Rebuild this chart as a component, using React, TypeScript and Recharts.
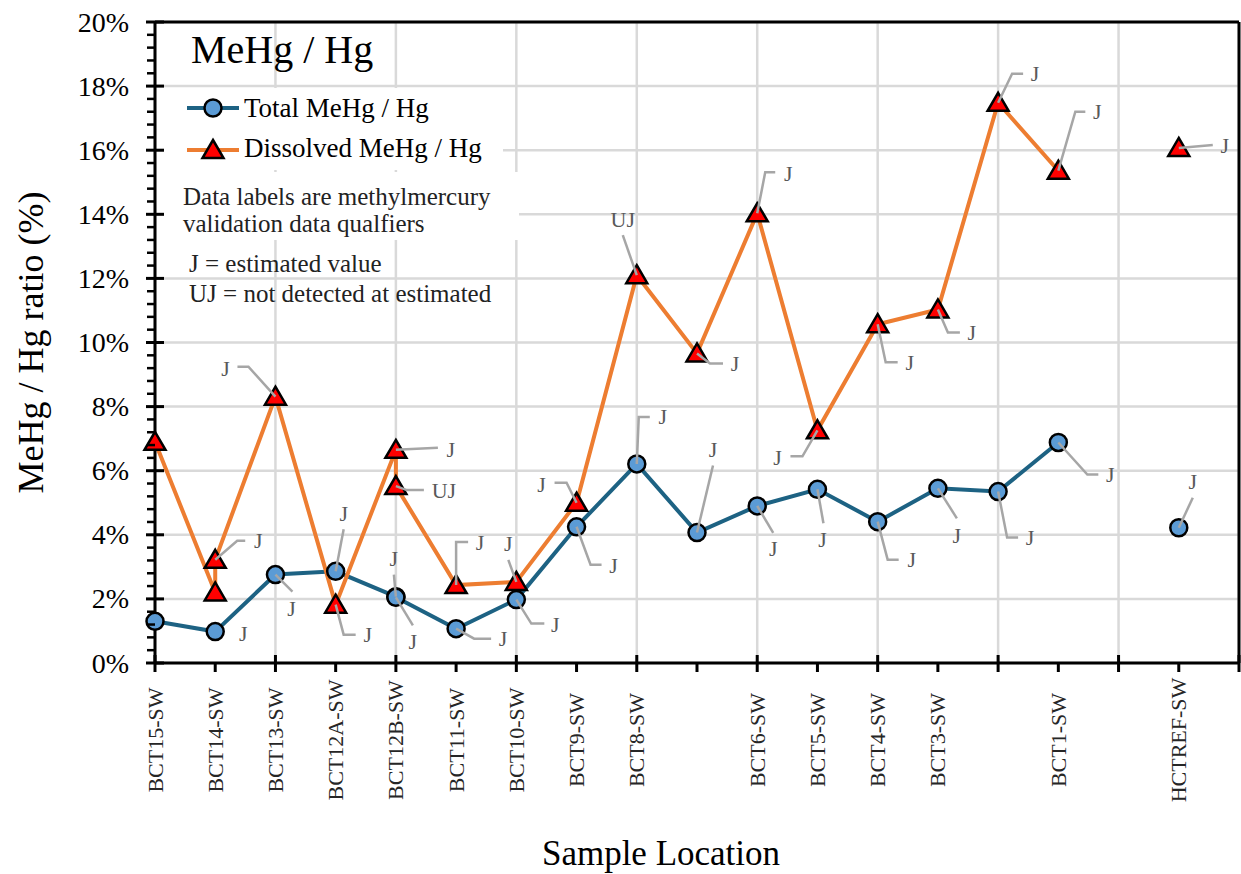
import React from 'react';
import {
  LineChart,
  Line,
  XAxis,
  YAxis,
  CartesianGrid,
  ReferenceLine,
  Legend,
  LabelList,
} from 'recharts';

const FONT = '"Liberation Serif", "Times New Roman", Times, serif';

// sample locations along the x axis (blank ones were not labelled in the original)
const locations = [
  'BCT15-SW', 'BCT14-SW', 'BCT13-SW', 'BCT12A-SW', 'BCT12B-SW', 'BCT11-SW',
  'BCT10-SW', 'BCT9-SW', 'BCT8-SW', '', 'BCT6-SW', 'BCT5-SW', 'BCT4-SW',
  'BCT3-SW', '', 'BCT1-SW', '', 'HCTREF-SW',
];
const xTicks = [0, 1, 2, 3, 4, 5, 6, 7, 8, 9, 10, 11, 12, 13, 14, 15, 16, 17, 18];
const gridX = [0, 2, 4, 6, 8, 10, 12, 14, 16, 18];
const gridY = [0, 2, 4, 6, 8, 10, 12, 14, 16, 18, 20];
const yTicks = Array.from({ length: 51 }, (_, i) => Math.round(i * 4) / 10);

// Total MeHg / Hg (%)
const totalLoc = [0, 1, 2, 3, 4, 4, 5, 6, 7, 8, 9, 10, 11, 12, 13, 14, 15, 16, 17];
const totalPct = [1.3, 0.98, 2.76, 2.86, 2.07, 2.05, 1.07, 1.98, 4.25, 6.21, 4.07, 4.9, 5.42, 4.41, 5.45, 5.35, 6.88, null, 4.22];
const totalQual = ['', 'J', 'J', 'J', 'J', 'J', 'J', 'J', 'J', 'J', 'J', 'J', 'J', 'J', 'J', 'J', 'J', '', 'J'];

// Dissolved MeHg / Hg (%)
const dissLoc = [0, 1, 1, 2, 3, 4, 4, 5, 6, 7, 8, 9, 10, 11, 12, 13, 14, 15, 16, 17];
const dissPct = [6.9, 2.2, 3.22, 8.31, 1.82, 6.65, 5.52, 2.43, 2.53, 5.0, 12.1, 9.66, 14.03, 7.26, 10.57, 11.03, 17.48, 15.36, null, 16.07];
const dissQual = ['', '', 'J', 'J', 'J', 'J', 'UJ', 'J', 'J', 'J', 'UJ', 'J', 'J', 'J', 'J', 'J', 'J', 'J', '', 'J'];

// label placement: leader elbow [x1,y1], leader end [x2,y2], text centre [tx,ty] relative to the point
const totalLabelPos: number[][] = [
  [], [0, 0, 0, 0, 28, 2], [17, 17, 17, 17, 16, 34], [8, -42, 8, -42, 8, -58],
  [-2, -22, -2, -22, -2, -38], [17, 28, 17, 28, 17, 44], [18, 10, 35, 10, 47, 10],
  [15, 24, 28, 24, 39, 25], [14, 38, 25, 38, 37, 39], [2, -47, 13, -47, 26, -47],
  [16, -67, 16, -67, 16, -83], [16, 27, 16, 27, 16, 43], [6, 34, 6, 34, 5, 50],
  [10, 38, 21, 38, 34, 38], [19, 30, 19, 30, 19, 47], [9, 46, 20, 46, 32, 46],
  [29, 32, 40, 32, 52, 32], [], [14, -30, 14, -30, 14, -46],
];
const dissLabelPos: number[][] = [
  [], [], [22, -19, 30, -19, 43, -19], [-27, -30, -38, -30, -50, -28],
  [8, 30, 20, 30, 32, 30], [42, -2, 42, -2, 55, 0], [11, 4, 28, 4, 48, 4],
  [0, -43, 12, -43, 24, -43], [-8, -22, -8, -22, -8, -38], [-10, -20, -22, -20, -35, -18],
  [-14, -40, -14, -40, -14, -56], [13, 10, 26, 10, 38, 10], [8, -41, 18, -41, 31, -40],
  [-15, 26, -27, 26, -40, 27], [8, 38, 20, 38, 32, 38], [10, 23, 22, 23, 34, 23],
  [14, -29, 25, -29, 37, -29], [17, -59, 27, -59, 39, -59], [], [34, -3, 34, -3, 46, -2],
];

const totalRows = totalLoc.map((x, i) => ({ x, v: totalPct[i], q: totalQual[i] }));
const dissRows = dissLoc.map((x, i) => ({ x, v: dissPct[i], q: dissQual[i] }));

const TOTAL_LINE = '#1d6283';
const TOTAL_FILL = '#5b9bd5';
const DISS_LINE = '#ed7d31';
const DISS_FILL = '#ff0000';

const isMajor = (v: number, step: number) => Math.abs(v / step - Math.round(v / step)) < 1e-6;

const circleDot = (props: any) => {
  const { cx, cy, index } = props;
  if (cx == null || cy == null || props.value == null) return <g key={`c${index}`} />;
  return <circle key={`c${index}`} cx={cx} cy={cy} r={8.5} fill={TOTAL_FILL} stroke="#000" strokeWidth={2.5} />;
};

const triangleDot = (props: any) => {
  const { cx, cy, index } = props;
  if (cx == null || cy == null || props.value == null) return <g key={`t${index}`} />;
  return (
    <polygon
      key={`t${index}`}
      points={`${cx},${cy - 10} ${cx + 10.5},${cy + 8} ${cx - 10.5},${cy + 8}`}
      fill={DISS_FILL}
      stroke="#000"
      strokeWidth={2.5}
    />
  );
};

const qualifierLabel = (pos: number[][]) => (props: any) => {
  const { x, y, value, index } = props;
  if (!value || x == null || y == null) return null;
  const p = pos[index];
  if (!p || !p.length) return null;
  const [x1, y1, x2, y2, tx, ty] = p;
  return (
    <g key={`l${index}`}>
      {x1 || y1 ? (
        <polyline
          points={`${x},${y} ${x + x1},${y + y1} ${x + x2},${y + y2}`}
          fill="none"
          stroke="#a6a6a6"
          strokeWidth={2.5}
        />
      ) : null}
      <text x={x + tx} y={y + ty} textAnchor="middle" dominantBaseline="central" fontFamily={FONT} fontSize={22} fill="#595959">
        {value}
      </text>
    </g>
  );
};

const XTick = (props: any) => {
  const { x, y, payload } = props;
  const v = payload.value;
  const major = isMajor(v, 2);
  const name = locations[v] || '';
  return (
    <g>
      <line x1={x} x2={x} y1={major ? y - 8 : y} y2={y + 9} stroke="#000" strokeWidth={3} />
      {name ? (
        <text
          x={x}
          y={740}
          transform={`rotate(-90, ${x}, 740)`}
          textAnchor="middle"
          dominantBaseline="central"
          fontFamily={FONT}
          fontSize={22}
          fill="#262626"
        >
          {name}
        </text>
      ) : null}
    </g>
  );
};

const YTick = (props: any) => {
  const { x, y, payload } = props;
  const v = payload.value;
  if (isMajor(v, 2)) {
    return (
      <g>
        <line x1={x - 9} x2={x + 9} y1={y} y2={y} stroke="#000" strokeWidth={3} />
        <text x={x - 26} y={y} textAnchor="end" dominantBaseline="central" fontFamily={FONT} fontSize={28} fill="#000">
          {`${Math.round(v)}%`}
        </text>
      </g>
    );
  }
  return <line x1={x - 8} x2={x} y1={y} y2={y} stroke="#000" strokeWidth={2.5} />;
};

const renderLegend = () => (
  <svg width={370} height={300} style={{ display: 'block', overflow: 'visible' }}>
    <rect x={7} y={64} width={339} height={82} fill="#fff" />
    <rect x={7} y={148} width={355} height={68} fill="#fff" />
    <text x={34} y={39} fontFamily={FONT} fontSize={40} fill="#000">MeHg / Hg</text>
    <line x1={30} x2={82} y1={84} y2={84} stroke={TOTAL_LINE} strokeWidth={4} />
    <circle cx={56} cy={84} r={8.5} fill={TOTAL_FILL} stroke="#000" strokeWidth={2.5} />
    <text x={87} y={93} fontFamily={FONT} fontSize={27} fill="#000">Total MeHg / Hg</text>
    <line x1={30} x2={82} y1={126} y2={126} stroke={DISS_LINE} strokeWidth={4} />
    <polygon points="56,116 66.5,134 45.5,134" fill={DISS_FILL} stroke="#000" strokeWidth={2.5} />
    <text x={87} y={133} fontFamily={FONT} fontSize={27} fill="#000">Dissolved MeHg / Hg</text>
    <text x={26} y={181} fontFamily={FONT} fontSize={25} fill="#222">Data labels are methylmercury</text>
    <text x={26} y={208} fontFamily={FONT} fontSize={25} fill="#222">validation data qualfiers</text>
    <text x={32} y={248} fontFamily={FONT} fontSize={25} fill="#222">J = estimated value</text>
    <text x={32} y={278} fontFamily={FONT} fontSize={25} fill="#222">UJ = not detected at estimated</text>
  </svg>
);

export default function App() {
  return (
    <div style={{ position: 'absolute', left: 0, top: 0, width: 1241, height: 874, background: '#fff' }}>
      <LineChart width={1241} height={874} margin={{ top: 22, right: 2, bottom: 0, left: 0 }}>
        <CartesianGrid
          horizontalValues={gridY}
          verticalValues={gridX}
          stroke="#d9d9d9"
          strokeWidth={2.5}
        />
        <XAxis
          dataKey="x"
          type="number"
          domain={[0, 18]}
          ticks={xTicks}
          interval={0}
          height={211}
          tickSize={0}
          tickMargin={0}
          tickLine={false}
          axisLine={{ stroke: '#000', strokeWidth: 3 }}
          tick={<XTick />}
          label={{
            content: (p: any) => {
              const vb = p.viewBox;
              return (
                <text x={vb.x + vb.width / 2 - 36} y={vb.y + 202} textAnchor="middle" fontFamily={FONT} fontSize={35} fill="#000">
                  Sample Location
                </text>
              );
            },
          }}
        />
        <YAxis
          type="number"
          domain={[0, 20]}
          ticks={yTicks}
          interval={0}
          width={155}
          tickSize={0}
          tickMargin={0}
          tickLine={false}
          axisLine={{ stroke: '#000', strokeWidth: 3 }}
          tick={<YTick />}
          label={{
            content: (p: any) => {
              const vb = p.viewBox;
              const cy = vb.y + vb.height / 2;
              return (
                <text
                  x={31}
                  y={cy}
                  transform={`rotate(-90, 31, ${cy})`}
                  textAnchor="middle"
                  dominantBaseline="central"
                  fontFamily={FONT}
                  fontSize={36}
                  fill="#000"
                >
                  MeHg / Hg ratio (%)
                </text>
              );
            },
          }}
        />
        <ReferenceLine y={20} stroke="#000" strokeWidth={3} />
        <ReferenceLine x={18} stroke="#000" strokeWidth={3} />
        <Line
          data={totalRows}
          dataKey="v"
          name="Total MeHg / Hg"
          type="linear"
          stroke={TOTAL_LINE}
          strokeWidth={4}
          dot={circleDot}
          activeDot={false}
          isAnimationActive={false}
        >
          <LabelList dataKey="q" content={qualifierLabel(totalLabelPos)} />
        </Line>
        <Line
          data={dissRows}
          dataKey="v"
          name="Dissolved MeHg / Hg"
          type="linear"
          stroke={DISS_LINE}
          strokeWidth={4}
          dot={triangleDot}
          activeDot={false}
          isAnimationActive={false}
        >
          <LabelList dataKey="q" content={qualifierLabel(dissLabelPos)} />
        </Line>
        <Legend
          layout="vertical"
          align="center"
          verticalAlign="middle"
          content={renderLegend}
          wrapperStyle={{ position: 'absolute', left: 157, top: 24, width: 370, height: 300, pointerEvents: 'none' }}
        />
      </LineChart>
    </div>
  );
}
